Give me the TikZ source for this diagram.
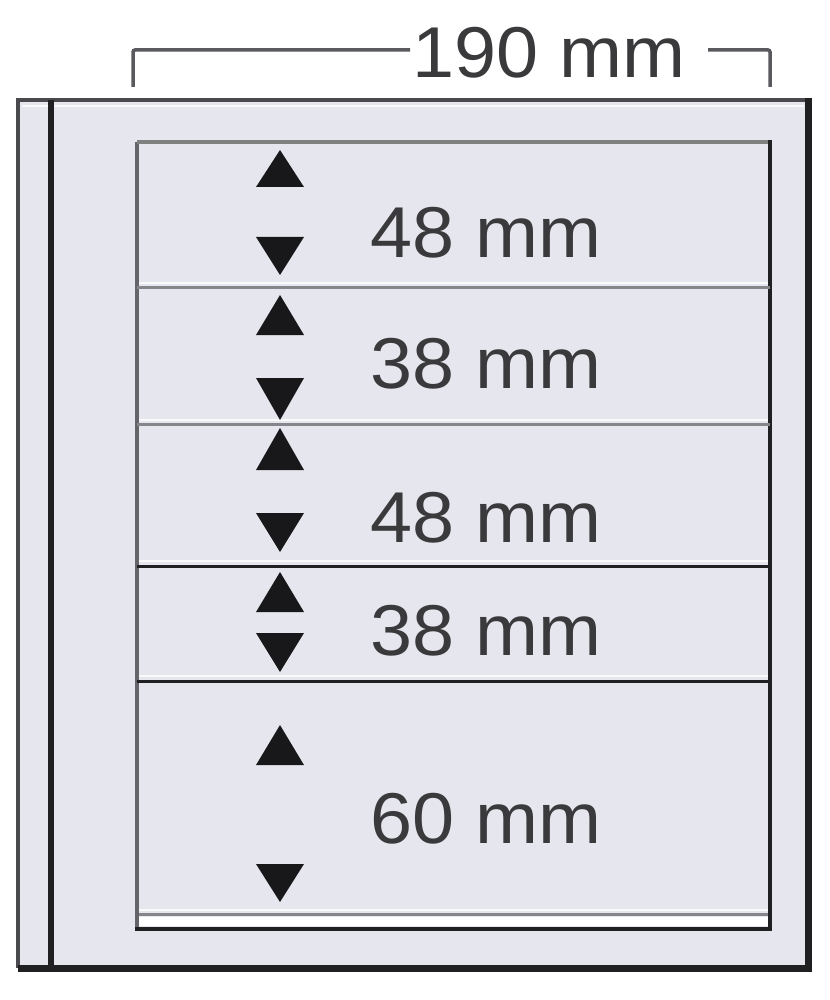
\documentclass[tikz,border=0pt]{standalone}
\usepackage{fontspec}
\setmainfont{Liberation Sans}
\definecolor{paper}{HTML}{E6E6EE}
\definecolor{edgegray}{HTML}{4A4A4E}
\definecolor{edgedark}{HTML}{202022}
\definecolor{sepgray}{HTML}{85858A}
\definecolor{txtgray}{HTML}{3A3A3C}
\definecolor{trigray}{HTML}{18181A}
\definecolor{dimgray}{HTML}{5A5A5E}
\newcommand{\upmark}[3]{\fill[trimark] (#1-24,#3) -- (#1,#2) -- (#1+24,#3) -- cycle;}
\newcommand{\downmark}[3]{\fill[trimark] (#1-24,#2) -- (#1,#3) -- (#1+24,#2) -- cycle;}
\begin{document}
\begin{tikzpicture}[x=1pt,y=-1pt,
  trimark/.style={trigray},
  lbl/.style={inner sep=0pt, anchor=base west, text=txtgray, xscale=1.05,
     font=\fontsize{72}{80}\selectfont},
  sepline/.style={line width=3pt, sepgray},
  sepdark/.style={line width=3pt, edgedark},
  hilite/.style={line width=2pt, white, opacity=0.8},
  dimline/.style={line width=3.5pt, dimgray, rounded corners=2pt}]
\useasboundingbox (0,0) rectangle (829,1000);
\fill[white] (0,0) rectangle (829,1000);
% page
\fill[paper] (18,100) rectangle (808,968);
\draw[line width=4pt, edgegray] (18,968) -- (18,100) -- (808,100);
\draw[hilite] (22,106) -- (804,106);
\draw[line width=7pt, edgedark] (18,968) -- (808,968) -- (808,98);
\draw[line width=6pt, edgedark] (51,100) -- (51,966);
% inner panel
\fill[paper] (137,142) rectangle (770,929);
\draw[line width=3.5pt, edgegray!85] (137,929) -- (137,142);
\draw[line width=3.5pt, gray] (137,142) -- (770,142);
\draw[line width=4.5pt, edgedark] (770,140) -- (770,929);
\draw[line width=4.5pt, edgedark] (135,929) -- (772,929);
\fill[white] (139,917) rectangle (768,926);
\draw[hilite] (139,910) -- (768,910);
\draw[sepline] (139,914) -- (768,914);
% separators
\draw[hilite] (139,283) -- (768,283);
\draw[sepline] (137,287) -- (770,287);
\draw[hilite] (139,420) -- (768,420);
\draw[sepline] (137,424) -- (770,424);
\draw[hilite] (139,561) -- (768,561);
\draw[sepdark] (137,566) -- (770,566);
\draw[hilite] (139,676) -- (768,676);
\draw[sepdark] (137,681) -- (770,681);
% triangles
\upmark{280}{150}{187}
\downmark{280}{237}{275}
\upmark{280}{295}{335}
\downmark{280}{378}{420}
\upmark{280}{428}{470}
\downmark{280}{513}{552}
\upmark{280}{572}{612}
\downmark{280}{633}{672}
\upmark{280}{725}{765}
\downmark{280}{864}{902}
% labels
\node[lbl] (s1) at (370,257) {48 mm};
\node[lbl] (s2) at (370,388) {38 mm};
\node[lbl] (s3) at (370,542) {48 mm};
\node[lbl] (s4) at (370,655) {38 mm};
\node[lbl] (s5) at (370,843) {60 mm};
% dimension
\node[lbl] (w) at (412,78) {190 mm};
\coordinate (dl) at (133,87);
\coordinate (dr) at (770,87);
\draw[dimline] (dl) -- (133,50) -- (410,50);
\draw[dimline] (708,50) -- (770,50) -- (dr);
\end{tikzpicture}
\end{document}
